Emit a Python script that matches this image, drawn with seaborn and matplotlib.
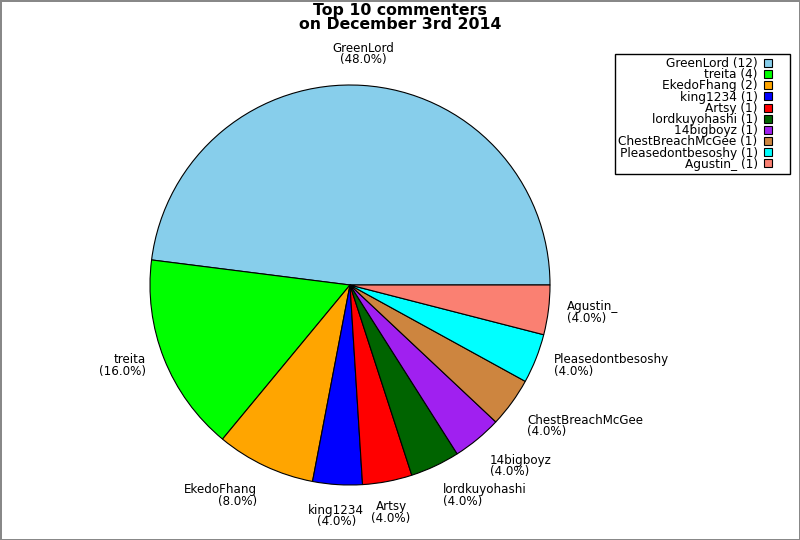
import numpy as np
import matplotlib
matplotlib.use("Agg")
import matplotlib.pyplot as plt
from matplotlib.lines import Line2D
import seaborn as sns

names = ["GreenLord", "treita", "EkedoFhang", "king1234", "Artsy",
         "lordkuyohashi", "14bigboyz", "ChestBreachMcGee", "Pleasedontbesoshy", "Agustin_"]
counts = [12, 4, 2, 1, 1, 1, 1, 1, 1, 1]
colors = ["#87CEEB", "#00FF00", "#FFA500", "#0000FF", "#FF0000",
          "#006400", "#A020F0", "#CD853F", "#00FFFF", "#FA8072"]
title = "Top 10 commenters\non December 3rd 2014"

sns.set_theme(style="white")
plt.rcParams['font.family'] = ['DejaVu Sans']
plt.rcParams['text.color'] = 'black'
palette = sns.color_palette(colors)

fig = plt.figure(figsize=(8, 5.4), dpi=100)
fig.patch.set_facecolor("white")
fig.patch.set_edgecolor("#888888")
fig.patch.set_linewidth(2)

ax = fig.add_axes([150 / 800, 55 / 540, 400 / 800, 400 / 540])
total = sum(counts)
labels = [f"{n}\n({c / total * 100:.1f}%)" for n, c in zip(names, counts)]
wedges, texts = ax.pie(counts, labels=labels, colors=palette, startangle=0,
                       counterclock=True, radius=1.0, labeldistance=1.1,
                       wedgeprops=dict(edgecolor="black", linewidth=0.8),
                       textprops=dict(fontsize=8.6, color="black"))
for w, t in zip(wedges, texts):
    ang = np.deg2rad((w.theta1 + w.theta2) / 2)
    c, s = np.cos(ang), np.sin(ang)
    t.set_position((1.095 * c, 1.095 * s))
    if abs(c) < 0.3:
        ha = "center"
    elif c > 0:
        ha = "left"
    else:
        ha = "right"
    if s > 0.5:
        va = "bottom"
    elif s < -0.5:
        va = "top"
    else:
        va = "center"
    t.set_ha(ha)
    t.set_va(va)
    t.set_multialignment(ha)
    t.set_linespacing(0.85)
ax.set_xlim(-1, 1)
ax.set_ylim(-1, 1)
ax.set_aspect("equal")
ax.axis("off")

leg_labels = [f"{n} ({c})" for n, c in zip(names, counts)]
handles = [Line2D([], [], linestyle="none", marker="s", markersize=5.6,
                  markerfacecolor=col, markeredgecolor="black", markeredgewidth=0.8)
           for col in palette]
leg = fig.legend(handles, leg_labels, loc="upper right",
                 bbox_to_anchor=(790 / 800, 1 - 54 / 540),
                 markerfirst=False, fancybox=False, framealpha=1,
                 edgecolor="black", fontsize=8.7, labelspacing=-0.15,
                 handlelength=3.2, handletextpad=-0.78,
                 borderpad=0.25, borderaxespad=0)
leg.get_frame().set_linewidth(1.0)
for t in leg.get_texts():
    t.set_ha("right")
    t.set_color("black")

fig.suptitle(title, fontsize=11.3, fontweight="bold", y=1 - 3 / 540,
             va="top", linespacing=0.9, color="black")

fig.savefig("out.png", dpi=100)
